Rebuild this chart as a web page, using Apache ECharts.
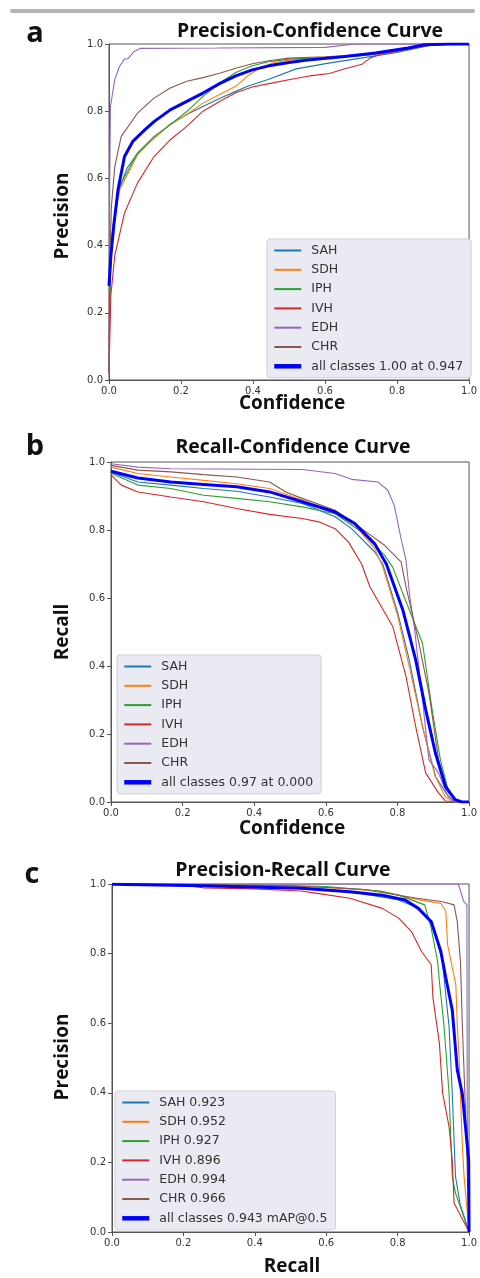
<!DOCTYPE html>
<html>
<head>
<meta charset="utf-8">
<script src="https://cdn.jsdelivr.net/npm/echarts@6/dist/echarts.min.js"></script>
<style>
  html, body { margin: 0; padding: 0; background: #fff; }
  #main { width: 480px; height: 1278px; }
</style>
</head>
<body>
<div id="main"></div>
<script>
// class names + colours (matplotlib tab10)
var classNames = ['SAH', 'SDH', 'IPH', 'IVH', 'EDH', 'CHR'];
var classColors = ['#1f77b4', '#ff7f0e', '#2ca02c', '#d62728', '#9467bd', '#8c564b'];

// ---- a: precision vs confidence ----
var aSAH = [[0,0.02],[0.003,0.3],[0.01,0.45],[0.029,0.57],[0.05,0.63],[0.079,0.675],[0.125,0.72],[0.17,0.76],[0.216,0.79],[0.261,0.814],[0.307,0.838],[0.352,0.859],[0.385,0.874],[0.444,0.895],[0.52,0.926],[0.61,0.943],[0.70,0.958],[0.8,0.975],[0.9,0.998],[1,1]];
var aSDH = [[0,0.02],[0.003,0.3],[0.01,0.44],[0.029,0.565],[0.079,0.67],[0.125,0.72],[0.17,0.762],[0.216,0.79],[0.261,0.824],[0.307,0.85],[0.352,0.874],[0.385,0.905],[0.42,0.93],[0.46,0.945],[0.5,0.952],[0.6,0.958],[0.7,0.965],[0.8,0.978],[0.88,0.998],[1,1]];
var aIPH = [[0,0.02],[0.003,0.3],[0.01,0.45],[0.029,0.576],[0.079,0.675],[0.125,0.725],[0.17,0.76],[0.216,0.799],[0.261,0.844],[0.307,0.884],[0.352,0.915],[0.398,0.935],[0.444,0.947],[0.5,0.955],[0.6,0.96],[0.7,0.965],[0.8,0.978],[0.88,0.998],[1,1]];
var aIVH = [[0,0.02],[0.005,0.25],[0.016,0.37],[0.043,0.497],[0.079,0.586],[0.125,0.665],[0.17,0.715],[0.216,0.755],[0.261,0.80],[0.307,0.829],[0.352,0.855],[0.398,0.872],[0.444,0.882],[0.507,0.895],[0.557,0.905],[0.612,0.912],[0.66,0.928],[0.703,0.94],[0.725,0.958],[0.75,0.968],[0.83,0.985],[0.9,0.998],[1,1]];
var aEDH = [[0,0.02],[0.002,0.6],[0.004,0.814],[0.016,0.894],[0.029,0.933],[0.043,0.955],[0.052,0.956],[0.07,0.978],[0.088,0.987],[0.3,0.988],[0.6,0.99],[0.685,1.0],[1,1]];
var aCHR = [[0,0.02],[0.002,0.35],[0.0066,0.516],[0.016,0.635],[0.034,0.725],[0.079,0.794],[0.125,0.839],[0.17,0.869],[0.216,0.889],[0.261,0.9],[0.307,0.913],[0.352,0.928],[0.398,0.941],[0.444,0.95],[0.5,0.958],[0.6,0.962],[0.7,0.968],[0.8,0.982],[0.88,1.0],[1,1]];
var aAll = [[0,0.28],[0.005,0.367],[0.014,0.467],[0.025,0.566],[0.043,0.665],[0.066,0.71],[0.1,0.745],[0.125,0.769],[0.17,0.804],[0.216,0.829],[0.261,0.854],[0.307,0.882],[0.352,0.905],[0.398,0.923],[0.444,0.935],[0.5,0.945],[0.55,0.952],[0.649,0.962],[0.74,0.973],[0.831,0.988],[0.876,0.998],[0.95,1],[1,1]];

// ---- b: recall vs confidence ----
var bSAH = [[0,0.97],[0.075,0.941],[0.167,0.932],[0.259,0.922],[0.351,0.914],[0.443,0.897],[0.534,0.878],[0.626,0.839],[0.672,0.804],[0.736,0.736],[0.759,0.70],[0.8,0.56],[0.833,0.418],[0.87,0.222],[0.906,0.075],[0.943,0.015],[0.97,0],[1,0]];
var bSDH = [[0,0.985],[0.075,0.966],[0.167,0.956],[0.259,0.946],[0.351,0.936],[0.443,0.922],[0.534,0.888],[0.626,0.848],[0.681,0.814],[0.736,0.746],[0.759,0.692],[0.8,0.55],[0.833,0.398],[0.87,0.222],[0.906,0.075],[0.934,0.015],[0.96,0],[1,0]];
var bIPH = [[0,0.967],[0.075,0.932],[0.167,0.922],[0.259,0.902],[0.351,0.893],[0.443,0.883],[0.534,0.868],[0.626,0.848],[0.70,0.794],[0.764,0.726],[0.787,0.69],[0.82,0.6],[0.87,0.467],[0.897,0.271],[0.92,0.124],[0.943,0.03],[0.97,0],[1,0]];
var bIVH = [[0,0.962],[0.029,0.932],[0.075,0.912],[0.167,0.897],[0.259,0.883],[0.351,0.863],[0.443,0.846],[0.534,0.834],[0.58,0.824],[0.626,0.804],[0.663,0.765],[0.70,0.70],[0.723,0.633],[0.787,0.516],[0.824,0.369],[0.851,0.222],[0.879,0.085],[0.915,0.026],[0.934,0.003],[1,0]];
var bEDH = [[0,0.995],[0.075,0.985],[0.167,0.98],[0.534,0.978],[0.626,0.966],[0.672,0.949],[0.746,0.941],[0.773,0.917],[0.791,0.873],[0.81,0.775],[0.824,0.711],[0.835,0.6],[0.847,0.516],[0.87,0.3],[0.888,0.124],[0.915,0.085],[0.94,0.02],[0.96,0],[1,0]];
var bCHR = [[0,0.99],[0.075,0.976],[0.167,0.971],[0.259,0.963],[0.351,0.956],[0.443,0.941],[0.488,0.912],[0.534,0.893],[0.626,0.858],[0.70,0.804],[0.764,0.755],[0.81,0.706],[0.824,0.633],[0.86,0.467],[0.888,0.32],[0.915,0.124],[0.943,0.026],[0.97,0],[1,0]];
var bAll = [[0,0.973],[0.075,0.953],[0.167,0.941],[0.259,0.934],[0.351,0.927],[0.443,0.912],[0.534,0.883],[0.626,0.853],[0.681,0.819],[0.736,0.76],[0.769,0.70],[0.815,0.565],[0.851,0.418],[0.879,0.271],[0.906,0.144],[0.934,0.046],[0.961,0.007],[0.98,0],[1,0]];

// ---- c: precision vs recall ----
var cSAH = [[0,1],[0.3,0.995],[0.5,0.99],[0.6,0.985],[0.7,0.972],[0.8,0.955],[0.86,0.93],[0.894,0.89],[0.91,0.84],[0.925,0.78],[0.944,0.59],[0.953,0.399],[0.962,0.16],[0.975,0.08],[1,0]];
var cSDH = [[0,1],[0.4,0.997],[0.6,0.99],[0.75,0.98],[0.858,0.955],[0.9,0.948],[0.921,0.944],[0.935,0.921],[0.94,0.825],[0.963,0.71],[0.967,0.6],[0.972,0.5],[0.981,0.255],[0.986,0.16],[1,0]];
var cIPH = [[0,1],[0.4,0.997],[0.6,0.993],[0.75,0.98],[0.803,0.968],[0.876,0.94],[0.894,0.873],[0.912,0.777],[0.917,0.72],[0.93,0.59],[0.944,0.399],[0.953,0.16],[0.962,0.112],[1,0]];
var cIVH = [[0,1],[0.2,0.997],[0.255,0.989],[0.4,0.986],[0.529,0.98],[0.575,0.973],[0.666,0.959],[0.757,0.93],[0.803,0.902],[0.839,0.863],[0.867,0.806],[0.894,0.768],[0.899,0.672],[0.917,0.542],[0.926,0.399],[0.944,0.303],[0.953,0.207],[0.958,0.083],[1,0]];
var cEDH = [[0,1],[0.97,1],[0.985,0.95],[0.994,0.94],[0.995,0.33],[1,0]];
var cCHR = [[0,1],[0.5,0.995],[0.7,0.985],[0.85,0.96],[0.926,0.949],[0.958,0.94],[0.967,0.892],[0.976,0.777],[0.981,0.6],[0.99,0.351],[1,0]];
var cAll = [[0,0.999],[0.255,0.995],[0.529,0.988],[0.666,0.978],[0.757,0.968],[0.821,0.954],[0.858,0.93],[0.894,0.892],[0.921,0.806],[0.935,0.73],[0.953,0.638],[0.967,0.466],[0.981,0.398],[0.99,0.303],[0.999,0.207],[1,0]];

var cMAP = ['0.923', '0.952', '0.927', '0.896', '0.994', '0.966'];
var allNameA = 'all classes 1.00 at 0.947';
var allNameB = 'all classes 0.97 at 0.000';
var allNameC = 'all classes 0.943 mAP@0.5';

var panelA = [aSAH, aSDH, aIPH, aIVH, aEDH, aCHR];
var panelB = [bSAH, bSDH, bIPH, bIVH, bEDH, bCHR];
var panelC = [cSAH, cSDH, cIPH, cIVH, cEDH, cCHR];
var namesC = classNames.map(function (n, i) { return n + ' ' + cMAP[i]; });

var grids = [
  { left: 109, top: 44, width: 366, height: 336 },
  { left: 111, top: 462, width: 363, height: 340 },
  { left: 112, top: 884, width: 365, height: 348 }
];

function axisCommon(idx) {
  return {
    type: 'value', gridIndex: idx, min: 0, max: 1, interval: 0.2,
    splitLine: { show: false },
    axisLine: { show: true, onZero: false, lineStyle: { color: '#555', width: 1 } },
    axisTick: { show: true, length: 4, lineStyle: { color: '#555' } },
    axisLabel: {
      color: '#333', fontSize: 10, fontFamily: 'DejaVu Sans', margin: 6,
      formatter: function (v) { return v.toFixed(1); }
    }
  };
}

var series = [];
function addPanel(idx, curves, names, allData, allName) {
  curves.forEach(function (d, i) {
    series.push({
      name: names[i], type: 'line', xAxisIndex: idx, yAxisIndex: idx,
      data: d, symbol: 'none', animation: false,
      lineStyle: { width: 1.1, color: classColors[i] },
      itemStyle: { color: classColors[i] }
    });
  });
  series.push({
    name: allName, type: 'line', xAxisIndex: idx, yAxisIndex: idx,
    data: allData, symbol: 'none', animation: false, z: 5,
    lineStyle: { width: 3, color: '#0000ff' },
    itemStyle: { color: '#0000ff' }
  });
}
addPanel(0, panelA, classNames, aAll, allNameA);
addPanel(1, panelB, classNames, bAll, allNameB);
addPanel(2, panelC, namesC, cAll, allNameC);

function legendAt(left, top, names, allName) {
  var items = names.map(function (n) { return { name: n }; });
  items.push({ name: allName, lineStyle: { width: 4.5 } });
  return {
    left: left, top: top, orient: 'vertical', selectedMode: false,
    itemWidth: 27, itemHeight: 12, itemGap: 6.3,
    padding: [5, 8, 5, 5],
    backgroundColor: '#eaeaf2', borderColor: '#cfcfd6', borderWidth: 1, borderRadius: 3,
    itemStyle: { color: 'rgba(0,0,0,0)', borderColor: 'rgba(0,0,0,0)', borderWidth: 0 },
    textStyle: { color: '#333', fontSize: 12.5, fontFamily: 'DejaVu Sans', padding: [0, 0, 0, 5] },
    data: items
  };
}

function label(text, x, y, size, rotate) {
  return {
    type: 'text', x: x, y: y, rotation: rotate || 0,
    style: {
      text: text, fill: '#111', align: 'center', verticalAlign: 'middle',
      font: 'bold ' + size + 'px "Open Sans", Lato, sans-serif'
    }
  };
}

var option = {
  backgroundColor: '#fff',
  animation: false,
  grid: grids.map(function (g) {
    return Object.assign({ show: true, borderColor: '#555', borderWidth: 1, backgroundColor: '#fff' }, g);
  }),
  xAxis: [axisCommon(0), axisCommon(1), axisCommon(2)],
  yAxis: [axisCommon(0), axisCommon(1), axisCommon(2)],
  legend: [
    legendAt(267, 239, classNames, allNameA),
    legendAt(117, 655, classNames, allNameB),
    legendAt(115, 1091, namesC, allNameC)
  ],
  graphic: [
    { type: 'rect', shape: { x: 10, y: 9, width: 465, height: 4, r: 2 }, style: { fill: '#b3b3b3' } },
    label('a', 35, 34, 29),
    label('b', 35, 447, 29),
    label('c', 32, 875, 29),
    label('Precision-Confidence Curve', 310, 31, 19.5),
    label('Recall-Confidence Curve', 293, 447, 19.5),
    label('Precision-Recall Curve', 283, 870, 19.5),
    label('Confidence', 292, 404, 19),
    label('Confidence', 292, 829, 19),
    label('Recall', 292, 1267, 19),
    label('Precision', 63, 216, 19, Math.PI / 2),
    label('Recall', 63, 632, 19, Math.PI / 2),
    label('Precision', 63, 1057, 19, Math.PI / 2)
  ],
  series: series
};

var myChart = echarts.init(document.getElementById('main'));
myChart.setOption(option);
</script>
</body>
</html>
